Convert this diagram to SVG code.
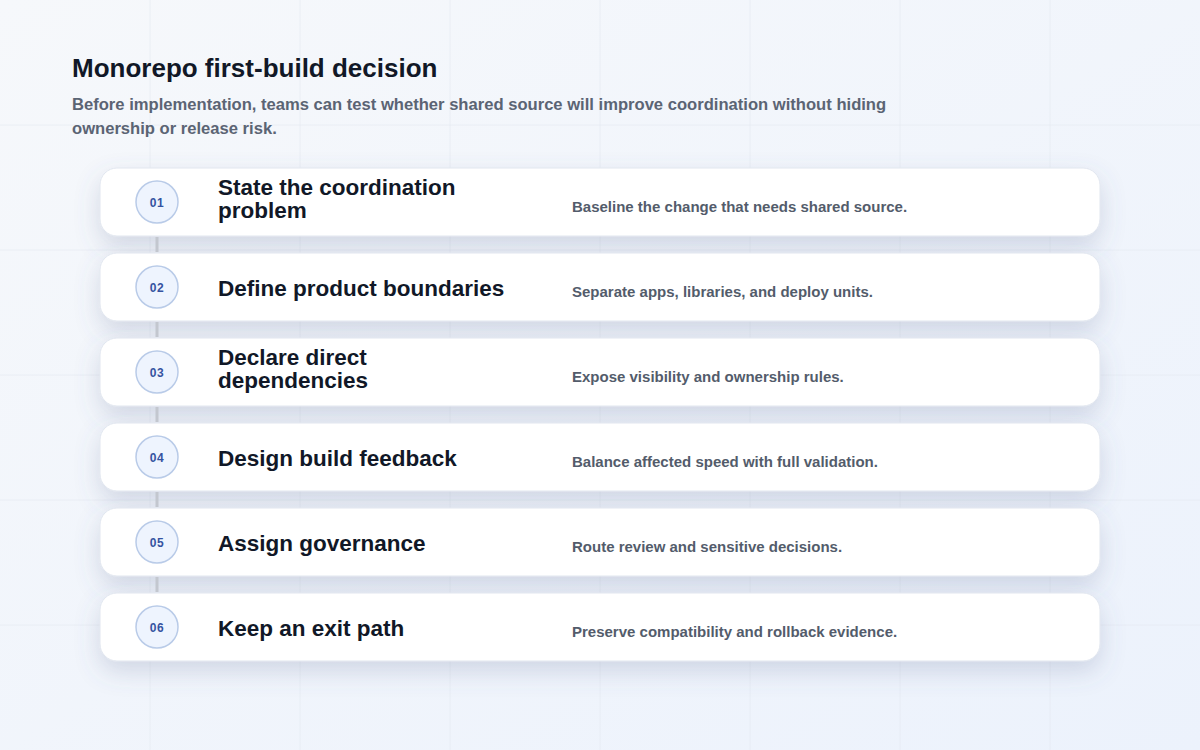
<svg xmlns="http://www.w3.org/2000/svg" width="1200" height="750" viewBox="0 0 1200 750">
  <defs>
    <linearGradient id="bg" x1="0" y1="0" x2="1" y2="1">
      <stop offset="0" stop-color="#f6f8fb"/>
      <stop offset="1" stop-color="#ecf2fc"/>
    </linearGradient>
    <filter id="shadow" x="-10%" y="-60%" width="120%" height="260%">
      <feDropShadow dx="0" dy="10" stdDeviation="12" flood-color="#5b6b92" flood-opacity="0.22"/>
    </filter>
  </defs>
  <style>
    .grid { stroke: #e3e8f0; stroke-width: 1; opacity: 0.6; }
    .card { fill: #ffffff; stroke: #e1e6ef; stroke-width: 1; filter: url(#shadow); }
    .badge { fill: #eef4fe; stroke: #b9cbe8; stroke-width: 1.5; }
    .num { font-family: "Liberation Sans", Arial, sans-serif; font-size: 12px; font-weight: 700; fill: #3553a1; text-anchor: middle; letter-spacing: 0.5px; }
    .step { font-family: "Liberation Sans", Arial, sans-serif; font-size: 22.5px; font-weight: 700; fill: #111827; }
    .desc { font-family: "Liberation Sans", Arial, sans-serif; font-size: 15px; font-weight: 700; fill: #535c6b; }
    .title { font-family: "Liberation Sans", Arial, sans-serif; font-size: 26px; font-weight: 700; fill: #111827; }
    .sub { font-family: "Liberation Sans", Arial, sans-serif; font-size: 16.6px; font-weight: 700; fill: #5b6474; }
    .link { stroke: #c3c7cf; stroke-width: 3; }
  </style>

  <rect x="0" y="0" width="1200" height="750" fill="url(#bg)"/>
  <g id="grid">
    <line class="grid" x1="150" y1="0" x2="150" y2="750"/>
    <line class="grid" x1="300" y1="0" x2="300" y2="750"/>
    <line class="grid" x1="450" y1="0" x2="450" y2="750"/>
    <line class="grid" x1="600" y1="0" x2="600" y2="750"/>
    <line class="grid" x1="750" y1="0" x2="750" y2="750"/>
    <line class="grid" x1="900" y1="0" x2="900" y2="750"/>
    <line class="grid" x1="1050" y1="0" x2="1050" y2="750"/>
    <line class="grid" x1="0" y1="125" x2="1200" y2="125"/>
    <line class="grid" x1="0" y1="250" x2="1200" y2="250"/>
    <line class="grid" x1="0" y1="375" x2="1200" y2="375"/>
    <line class="grid" x1="0" y1="500" x2="1200" y2="500"/>
    <line class="grid" x1="0" y1="625" x2="1200" y2="625"/>
  </g>

  <g id="header">
    <text class="title" x="72" y="77">Monorepo first-build decision</text>
    <text class="sub" x="72" y="110">Before implementation, teams can test whether shared source will improve coordination without hiding</text>
    <text class="sub" x="72" y="134">ownership or release risk.</text>
  </g>

  <g id="step-01">
    <rect class="card" x="100" y="168" width="1000" height="68" rx="17"/>
    <circle class="badge" cx="157" cy="202" r="21"/>
    <text class="num" x="157" y="206.5">01</text>
    <text class="step" x="218" y="195">State the coordination</text>
    <text class="step" x="218" y="218">problem</text>
    <text class="desc" x="572" y="212">Baseline the change that needs shared source.</text>
  </g>

  <g id="step-02">
    <rect class="card" x="100" y="253" width="1000" height="68" rx="17"/>
    <circle class="badge" cx="157" cy="287" r="21"/>
    <text class="num" x="157" y="291.5">02</text>
    <text class="step" x="218" y="296">Define product boundaries</text>
    <text class="desc" x="572" y="297">Separate apps, libraries, and deploy units.</text>
  </g>

  <g id="step-03">
    <rect class="card" x="100" y="338" width="1000" height="68" rx="17"/>
    <circle class="badge" cx="157" cy="372" r="21"/>
    <text class="num" x="157" y="376.5">03</text>
    <text class="step" x="218" y="365">Declare direct</text>
    <text class="step" x="218" y="388">dependencies</text>
    <text class="desc" x="572" y="382">Expose visibility and ownership rules.</text>
  </g>

  <g id="step-04">
    <rect class="card" x="100" y="423" width="1000" height="68" rx="17"/>
    <circle class="badge" cx="157" cy="457" r="21"/>
    <text class="num" x="157" y="461.5">04</text>
    <text class="step" x="218" y="466">Design build feedback</text>
    <text class="desc" x="572" y="467">Balance affected speed with full validation.</text>
  </g>

  <g id="step-05">
    <rect class="card" x="100" y="508" width="1000" height="68" rx="17"/>
    <circle class="badge" cx="157" cy="542" r="21"/>
    <text class="num" x="157" y="546.5">05</text>
    <text class="step" x="218" y="551">Assign governance</text>
    <text class="desc" x="572" y="552">Route review and sensitive decisions.</text>
  </g>

  <g id="step-06">
    <rect class="card" x="100" y="593" width="1000" height="68" rx="17"/>
    <circle class="badge" cx="157" cy="627" r="21"/>
    <text class="num" x="157" y="631.5">06</text>
    <text class="step" x="218" y="636">Keep an exit path</text>
    <text class="desc" x="572" y="637">Preserve compatibility and rollback evidence.</text>
  </g>

  <g id="connectors">
    <line class="link" x1="157" y1="237" x2="157" y2="252"/>
    <line class="link" x1="157" y1="322" x2="157" y2="337"/>
    <line class="link" x1="157" y1="407" x2="157" y2="422"/>
    <line class="link" x1="157" y1="492" x2="157" y2="507"/>
    <line class="link" x1="157" y1="577" x2="157" y2="592"/>
  </g>
</svg>
